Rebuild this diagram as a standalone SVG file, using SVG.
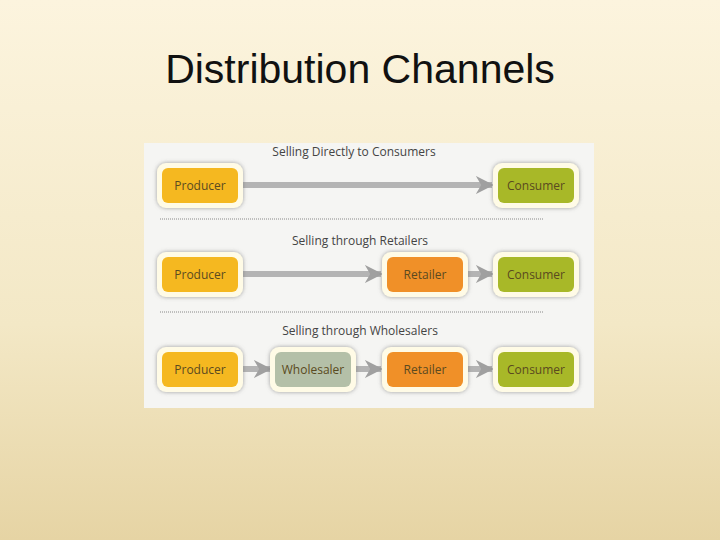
<svg xmlns="http://www.w3.org/2000/svg" width="720" height="540" viewBox="0 0 720 540">
<defs>
<linearGradient id="bg" x1="0" y1="0" x2="0" y2="1"><stop offset="0" stop-color="#fcf4de"/><stop offset="0.6" stop-color="#f3e8c6"/><stop offset="1" stop-color="#e6d4a4"/></linearGradient>
<filter id="sh" x="-20%" y="-20%" width="140%" height="140%"><feDropShadow dx="0" dy="0" stdDeviation="2" flood-color="#777" flood-opacity="0.7"/></filter>
<marker id="ah" viewBox="0 0 10 10" refX="9" refY="5" markerWidth="3" markerHeight="3" orient="auto"><path d="M0,0 L10,5 L0,10 L3,5 Z" fill="#a0a0a0"/></marker>
</defs>
<style>
.t{font-family:"Liberation Sans",Arial,sans-serif;fill:#111;text-anchor:middle}
.b{font-family:"Open Sans","Liberation Sans",sans-serif;font-size:12px;text-anchor:middle;fill:#5a4a20}
.h{font-family:"Open Sans","Liberation Sans",sans-serif;font-size:12px;text-anchor:middle;fill:#444}
.o{fill:#fffbe6;filter:url(#sh)}
.c{stroke:#b4b4b4;stroke-width:6;fill:none;marker-end:url(#ah)}
.d{stroke:#888;stroke-width:1;stroke-dasharray:1 1}
</style>
<rect width="720" height="540" fill="url(#bg)"/>
<text class="t" x="360" y="83" font-size="41">Distribution Channels</text>
<rect x="144" y="143" width="450" height="265" fill="#f5f5f3"/>
<text class="h" x="354" y="156">Selling Directly to Consumers</text>
<text class="h" x="360" y="245">Selling through Retailers</text>
<text class="h" x="360" y="335">Selling through Wholesalers</text>
<line class="d" x1="160" y1="219" x2="544" y2="219"/>
<line class="d" x1="160" y1="312" x2="544" y2="312"/>
<g id="connectors">
<line class="c" x1="242" y1="185" x2="492" y2="185"/>
<line class="c" x1="242" y1="274" x2="381" y2="274"/>
<line class="c" x1="466" y1="274" x2="492" y2="274"/>
<line class="c" x1="242" y1="369" x2="270" y2="369"/>
<line class="c" x1="355" y1="369" x2="381" y2="369"/>
<line class="c" x1="466" y1="369" x2="492" y2="369"/>
</g>
<g id="n1"><rect class="o" x="157" y="163" width="86" height="45" rx="9"/><rect x="162" y="168" width="76" height="35" rx="6" fill="#f5b820"/><text class="b" x="200" y="190">Producer</text></g>
<g id="n2"><rect class="o" x="493" y="163" width="86" height="45" rx="9"/><rect x="498" y="168" width="76" height="35" rx="6" fill="#a8b828"/><text class="b" x="536" y="190">Consumer</text></g>
<g id="n3"><rect class="o" x="157" y="252" width="86" height="45" rx="9"/><rect x="162" y="257" width="76" height="35" rx="6" fill="#f5b820"/><text class="b" x="200" y="279">Producer</text></g>
<g id="n4"><rect class="o" x="382" y="252" width="86" height="45" rx="9"/><rect x="387" y="257" width="76" height="35" rx="6" fill="#f09028"/><text class="b" x="425" y="279">Retailer</text></g>
<g id="n5"><rect class="o" x="493" y="252" width="86" height="45" rx="9"/><rect x="498" y="257" width="76" height="35" rx="6" fill="#a8b828"/><text class="b" x="536" y="279">Consumer</text></g>
<g id="n6"><rect class="o" x="157" y="347" width="86" height="45" rx="9"/><rect x="162" y="352" width="76" height="35" rx="6" fill="#f5b820"/><text class="b" x="200" y="374">Producer</text></g>
<g id="n7"><rect class="o" x="270" y="347" width="86" height="45" rx="9"/><rect x="275" y="352" width="76" height="35" rx="6" fill="#b4c0a8"/><text class="b" x="313" y="374">Wholesaler</text></g>
<g id="n8"><rect class="o" x="382" y="347" width="86" height="45" rx="9"/><rect x="387" y="352" width="76" height="35" rx="6" fill="#f09028"/><text class="b" x="425" y="374">Retailer</text></g>
<g id="n9"><rect class="o" x="493" y="347" width="86" height="45" rx="9"/><rect x="498" y="352" width="76" height="35" rx="6" fill="#a8b828"/><text class="b" x="536" y="374">Consumer</text></g>
</svg>
